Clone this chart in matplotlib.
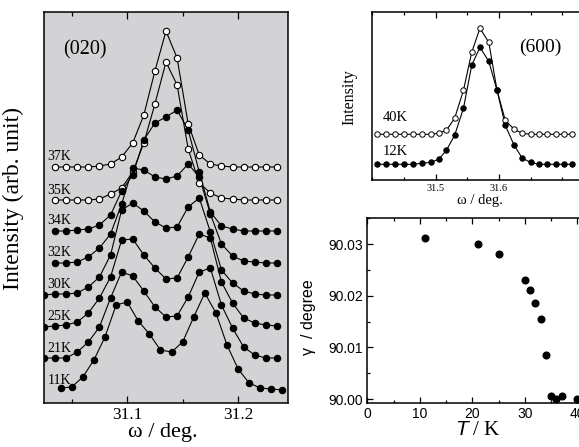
import matplotlib
matplotlib.use("Agg")
import matplotlib.pyplot as plt
from matplotlib.ticker import MultipleLocator

plt.rcParams['font.family'] = ['Liberation Serif', 'DejaVu Serif']
plt.rcParams['mathtext.fontset'] = 'custom'
plt.rcParams['mathtext.it'] = 'Liberation Sans:italic'
plt.rcParams['mathtext.rm'] = 'Liberation Sans'

# (020) omega scans, intensity above each curve's baseline
w_35 = [31.035, 31.045, 31.055, 31.065, 31.075, 31.085, 31.095, 31.105, 31.115, 31.125, 31.135,
        31.145, 31.155, 31.165, 31.175, 31.185, 31.195, 31.205, 31.215, 31.225, 31.235]
w_25 = [31.025, 31.035, 31.045, 31.055, 31.065, 31.075, 31.085, 31.095, 31.105, 31.115, 31.125,
        31.135, 31.145, 31.155, 31.165, 31.175, 31.185, 31.195, 31.205, 31.215, 31.225, 31.235]
w_40 = [31.04, 31.05, 31.06, 31.07, 31.08, 31.09, 31.10, 31.11, 31.12, 31.13, 31.14,
        31.15, 31.16, 31.17, 31.18, 31.19, 31.20, 31.21, 31.22, 31.23, 31.24]

i_37K = [0, 0, 0, 0, 1, 3, 10, 24, 52, 96, 136, 109, 43, 12, 3, 1, 0, 0, 0, 0, 0]
i_35K = [0, 0, 0, 0, 1, 6, 12, 28, 57, 96, 138, 115, 51, 17, 7, 2, 1, 0, 0, 0, 0]
i_34K = [0, 0, 1, 2, 6, 16, 40, 56, 91, 108, 114, 121, 101, 59, 19, 5, 2, 0, 0, 0, 0]
i_32K = [0, 0, 1, 6, 15, 29, 59, 95, 93, 86, 84, 87, 99, 86, 49, 19, 7, 2, 1, 0, 0]
i_30K = [0, 1, 1, 2, 8, 18, 40, 85, 92, 84, 73, 67, 68, 88, 97, 63, 25, 12, 4, 1, 0, 0]
i_25K = [0, 1, 2, 5, 14, 29, 50, 87, 88, 72, 59, 48, 49, 70, 93, 89, 45, 24, 9, 4, 2, 1]
i_21K = [0, 0, 0, 6, 16, 31, 60, 86, 82, 67, 51, 41, 42, 61, 86, 90, 53, 30, 11, 3, 0, 0]
i_11K = [2, 3, 13, 30, 53, 85, 88, 69, 56, 40, 38, 48, 73, 97, 77, 45, 21, 7, 2, 1, 0]

scans = [
    # label, omega, intensity, vertical offset, open marker
    ('37K', w_35, i_37K, 236, True),
    ('35K', w_35, i_35K, 203, True),
    ('34K', w_35, i_34K, 172, False),
    ('32K', w_35, i_32K, 140, False),
    ('30K', w_25, i_30K, 108, False),
    ('25K', w_25, i_25K, 76, False),
    ('21K', w_25, i_21K, 45, False),
    ('11K', w_40, i_11K, 13, False),
]

# (600) omega scans
w_600 = [31.408, 31.422, 31.436, 31.450, 31.464, 31.478, 31.492, 31.505, 31.517, 31.530, 31.544, 31.557,
         31.570, 31.584, 31.597, 31.610, 31.624, 31.637, 31.650, 31.663, 31.676, 31.690, 31.703, 31.716]
i_600_40K = [0, 0, 0, 0, 0, 0, 0, 1, 4, 16, 44, 82, 106, 92, 44, 14, 5, 1, 0, 0, 0, 0, 0, 0]
i_600_12K = [0, 0, 0, 0, 0, 1, 2, 5, 14, 29, 56, 99, 117, 103, 74, 39, 19, 6, 2, 0, 0, 0, 0, 0]

# monoclinic angle vs temperature
temp = [11, 21, 25, 30, 31, 32, 33, 34, 35, 36, 37, 40]
gamma = [90.0311, 90.0300, 90.0280, 90.0230, 90.0211, 90.0186, 90.0156, 90.0086,
         90.0006, 90.0001, 90.0006, 90.0001]

W, H = 579, 447
fig = plt.figure(figsize=(W / 100, H / 100), dpi=100)


def px_axes(x0, y0, x1, y1):
    return fig.add_axes([x0 / W, 1 - y1 / H, (x1 - x0) / W, (y1 - y0) / H])


def style_ticks(ax, size):
    ax.tick_params(which='both', direction='in', top=True, right=True, labelsize=size, pad=3)
    ax.tick_params(which='major', length=5, width=0.9)
    ax.tick_params(which='minor', length=3, width=0.9)
    for s in ax.spines.values():
        s.set_linewidth(1.1)


# ---- left: (020) ----
ax1 = px_axes(44, 12, 288, 403)
ax1.set_facecolor('#d3d3d5')
for label, w, inten, off, is_open in scans:
    y = [off + v for v in inten]
    ax1.plot(w, y, '-', color='black', lw=0.8, zorder=2)
    ax1.plot(w, y, 'o', ms=4.6, mec='black', mew=0.8,
             mfc='white' if is_open else 'black', zorder=3)
    ax1.text(31.028, off + 10, label, fontsize=10, ha='left', va='center')
ax1.text(0.078, 0.903, '(020)', transform=ax1.transAxes, fontsize=14.5, va='center')
ax1.set_xlim(31.025, 31.245)
ax1.set_ylim(0, 391)
ax1.xaxis.set_major_locator(MultipleLocator(0.1))
ax1.xaxis.set_minor_locator(MultipleLocator(0.05))
ax1.set_yticks([])
style_ticks(ax1, 12.5)
ax1.set_xlabel('ω / deg.', fontsize=16)
ax1.xaxis.set_label_coords(0.486, -0.052)
ax1.set_ylabel('Intensity (arb. unit)', fontsize=17)
ax1.yaxis.set_label_coords(-0.083, 0.523)

# ---- top right: (600) ----
ax2 = px_axes(372.3, 12, 593.9, 180)
for inten, off, is_open, label, dy in [(i_600_40K, 45.7, True, '40K', 17),
                                       (i_600_12K, 15.7, False, '12K', 12.6)]:
    y = [off + v for v in inten]
    ax2.plot(w_600, y, '-', color='black', lw=0.8, zorder=2)
    ax2.plot(w_600, y, 'o', ms=3.9, mec='black', mew=0.7,
             mfc='white' if is_open else 'black', zorder=3)
    ax2.text(31.4167, off + dy, label, fontsize=10.5, ha='left', va='center')
ax2.text(0.757, 0.79, '(600)', transform=ax2.transAxes, fontsize=14, ha='center', va='center')
ax2.set_xlim(31.4, 31.75)
ax2.set_ylim(0, 168)
ax2.set_xticks([31.5, 31.6])
ax2.set_xticklabels(['31.5', '31.6'])
ax2.xaxis.set_minor_locator(MultipleLocator(0.05))
ax2.set_yticks([])
style_ticks(ax2, 7.5)
ax2.tick_params(which='major', length=4)
ax2.tick_params(which='minor', length=2.5)
ax2.set_xlabel('ω / deg.', fontsize=10.5)
ax2.xaxis.set_label_coords(0.486, -0.085)
ax2.set_ylabel('Intensity', fontsize=11.5)
ax2.yaxis.set_label_coords(-0.066, 0.496)

# ---- bottom right: gamma vs T ----
ax3 = px_axes(367.3, 218.3, 603.6, 402.7)
ax3.plot(temp, gamma, 'o', color='black', ms=4.8, clip_on=False, zorder=3)
ax3.set_xlim(0, 45)
ax3.set_ylim(89.9993, 90.035)
ax3.xaxis.set_minor_locator(MultipleLocator(5))
ax3.yaxis.set_minor_locator(MultipleLocator(0.005))
ax3.set_yticks([90.00, 90.01, 90.02, 90.03])
ax3.set_yticklabels(['90.00', '90.01', '90.02', '90.03'], family='Liberation Sans', fontsize=9.5)
ax3.set_xticks([0, 10, 20, 30, 40])
ax3.set_xticklabels(['0', '10', '20', '30', '40'], family='Liberation Sans', fontsize=11)
style_ticks(ax3, None)
ax3.tick_params(which='major', length=4)
ax3.tick_params(which='minor', length=2.5)
ax3.set_xlabel('$T$ / K', fontsize=15)
ax3.xaxis.set_label_coords(0.47, -0.1)
ax3.set_ylabel('γ  / degree', family='Liberation Sans', fontsize=11.5)
ax3.yaxis.set_label_coords(-0.215, 0.465)

fig.savefig('out.png', dpi=100)
